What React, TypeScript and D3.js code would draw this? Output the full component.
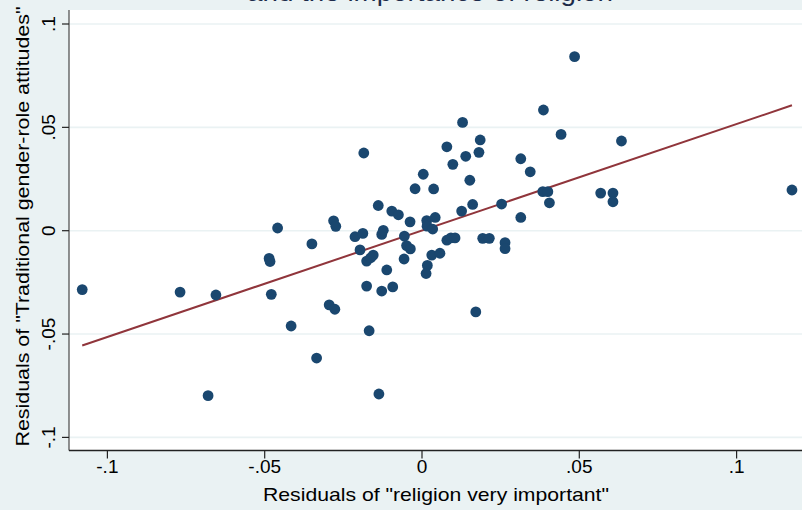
import React from "react";
import * as d3 from "d3";

// Residuals of "religion very important" (x) vs residuals of traditional gender-role attitudes (y)
const religionResid: number[] = [
  -0.108, -0.0769, -0.0655, -0.068, -0.0459, -0.0486, -0.0483, -0.0479, -0.0416, -0.035,
  -0.0335, -0.0295, -0.0277, -0.0281, -0.0274, -0.0213, -0.0188, -0.0197, -0.0185, -0.0176,
  -0.0163, -0.0155, -0.0176, -0.0168, -0.0137, -0.0139, -0.0128, -0.0123, -0.0128, -0.0112,
  -0.0096, -0.0075, -0.0093, -0.0056, -0.0049, -0.0037, -0.0057, -0.0038, -0.0022, 0.0004,
  0.0037, 0.0015, 0.0042, 0.0016, 0.0034, 0.0031, 0.0057, 0.0017, 0.0013, 0.0079,
  0.0092, 0.0105, 0.0079, 0.0098, 0.0129, 0.0139, 0.0126, 0.0152, 0.0161, 0.0171,
  0.0181, 0.0185, 0.0193, 0.0214, 0.0253, 0.0264, 0.0264, 0.0314, 0.0314, 0.0344,
  0.0386, 0.0384, 0.04, 0.0405, 0.0442, 0.0485, 0.0568, 0.0607, 0.0607, 0.0634,
  0.1176,
];
const genderRoleResid: number[] = [
  -0.0285, -0.0297, -0.0311, -0.0798, 0.0013, -0.0134, -0.0149, -0.0308, -0.0461, -0.0064,
  -0.0616, -0.0359, -0.038, 0.0048, 0.0021, -0.0029, -0.0013, -0.0093, 0.0376, -0.0147,
  -0.0131, -0.0118, -0.0268, -0.0484, -0.079, 0.0122, -0.0018, 0.0002, -0.0292, -0.019,
  0.0095, 0.0077, -0.0272, -0.0026, -0.0072, -0.0088, -0.0137, 0.0043, 0.0203, 0.0273,
  0.0202, 0.0049, 0.0064, 0.0022, 0.0008, -0.0118, -0.0109, -0.0168, -0.0207, -0.0046,
  -0.0035, -0.0035, 0.0406, 0.0321, 0.0524, 0.036, 0.0095, 0.0244, 0.0127, -0.0393,
  0.0379, 0.0439, -0.0037, -0.0037, 0.0129, -0.0058, -0.0087, 0.0348, 0.0064, 0.0285,
  0.0584, 0.0189, 0.0189, 0.0135, 0.0466, 0.0842, 0.0182, 0.0182, 0.014, 0.0434,
  0.0197,
];

// Fitted OLS line
const fitSlope = 0.515;
const fitIntercept = 0.0001;

const xTicks: number[] = [-0.1, -0.05, 0, 0.05, 0.1];
const xTickLabels: string[] = ["-.1", "-.05", "0", ".05", ".1"];
const yTicks: number[] = [-0.1, -0.05, 0, 0.05, 0.1];
const yTickLabels: string[] = ["-.1", "-.05", "0", ".05", ".1"];

const titleLine = "and the importance of religion";
const xTitle = 'Residuals of "religion very important"';
const yTitle = 'Residuals of "Traditional gender-role attitudes"';

const W = 802;
const H = 510;
const plot = { left: 69, right: 802, top: 10, bottom: 450.5 };

const BG = "#eaf2f3";
const MARKER = "#1a476f";
const FIT = "#90353b";
const FONT = "'Liberation Sans', Arial, sans-serif";

export default function App() {
  const x = d3.scaleLinear().domain([-0.1, 0.1]).range([107.4, 736.6]);
  const y = d3.scaleLinear().domain([-0.1, 0.1]).range([437.4, 24]);

  const points = religionResid.map((v, i) => ({ x: v, y: genderRoleResid[i] }));
  const [xmin, xmax] = d3.extent(religionResid) as [number, number];
  const fitLine = d3
    .line<number>()
    .x((d) => x(d))
    .y((d) => y(fitIntercept + fitSlope * d));

  return (
    <svg
      width={W}
      height={H}
      style={{ position: "absolute", left: 0, top: 0, display: "block" }}
      fontFamily={FONT}
    >
      <rect x={0} y={0} width={W} height={H} fill={BG} />
      <text
        x={430}
        y={0.5}
        textAnchor="middle"
        fontSize={25}
        fill="#1c2b4a"
        textLength={366}
        lengthAdjust="spacingAndGlyphs"
      >
        {titleLine}
      </text>

      <rect
        x={plot.left}
        y={plot.top}
        width={plot.right - plot.left}
        height={plot.bottom - plot.top}
        fill="#ffffff"
      />

      {/* horizontal grid */}
      {yTicks.map((t) => (
        <line
          key={"g" + t}
          x1={plot.left}
          x2={plot.right}
          y1={y(t)}
          y2={y(t)}
          stroke={BG}
          strokeWidth={1.6}
        />
      ))}

      {/* fit line */}
      <path d={fitLine([xmin, xmax]) ?? ""} fill="none" stroke={FIT} strokeWidth={2} />

      {/* markers */}
      {points.map((p, i) => (
        <circle key={i} cx={x(p.x)} cy={y(p.y)} r={5.4} fill={MARKER} />
      ))}

      {/* axes */}
      <line x1={plot.left} x2={plot.left} y1={plot.top} y2={plot.bottom} stroke="#555" strokeWidth={1.3} />
      <line x1={plot.left} x2={plot.right} y1={plot.bottom} y2={plot.bottom} stroke="#222" strokeWidth={1.3} />

      {yTicks.map((t, i) => (
        <g key={"yt" + t}>
          <line x1={plot.left - 7} x2={plot.left} y1={y(t)} y2={y(t)} stroke="#222" strokeWidth={1.2} />
          <text
            transform={`translate(55,${y(t)}) rotate(-90)`}
            textAnchor="middle"
            fontSize={19}
            fill="#000"
          >
            {yTickLabels[i]}
          </text>
        </g>
      ))}

      {xTicks.map((t, i) => (
        <g key={"xt" + t}>
          <line x1={x(t)} x2={x(t)} y1={plot.bottom} y2={plot.bottom + 8} stroke="#222" strokeWidth={1.2} />
          <text x={x(t)} y={473} textAnchor="middle" fontSize={19} fill="#000">
            {xTickLabels[i]}
          </text>
        </g>
      ))}

      <text
        x={436}
        y={501}
        textAnchor="middle"
        fontSize={19}
        fill="#000"
        textLength={346}
        lengthAdjust="spacingAndGlyphs"
      >
        {xTitle}
      </text>
      <text
        transform="translate(28.5,226.5) rotate(-90)"
        textAnchor="middle"
        fontSize={19}
        fill="#000"
        textLength={440}
        lengthAdjust="spacingAndGlyphs"
      >
        {yTitle}
      </text>
    </svg>
  );
}
